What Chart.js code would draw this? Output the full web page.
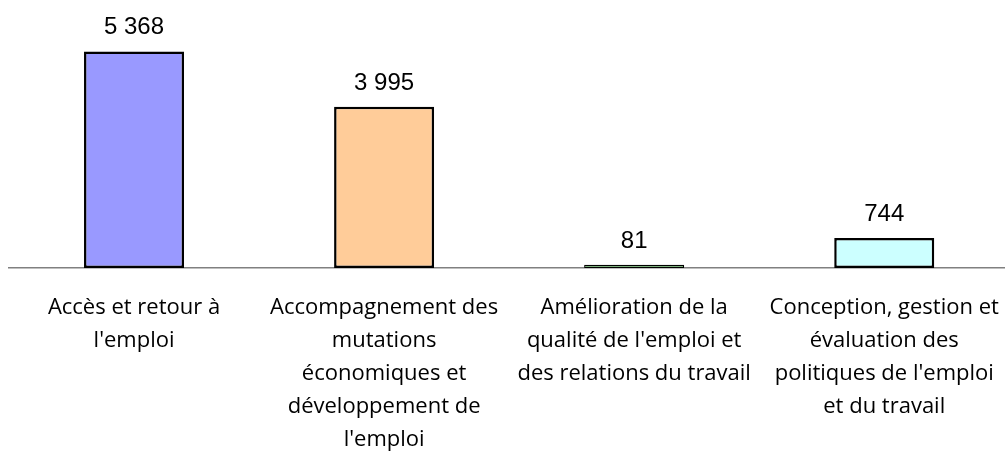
<!DOCTYPE html>
<html lang="fr">
<head>
<meta charset="utf-8">
<title>Répartition par action</title>
<script src="https://cdn.jsdelivr.net/npm/chart.js@4/dist/chart.umd.min.js"></script>
<style>
    html, body { margin: 0; padding: 0; background: #fff; overflow: hidden; }
</style>
</head>
<body>
<canvas id="barChart" width="1022" height="479"></canvas>
<script>
// DATA

const categories = [
    ['Accès et retour à', "l'emploi"],
    ['Accompagnement des', 'mutations', 'économiques et', 'développement de', "l'emploi"],
    ['Amélioration de la', "qualité de l'emploi et", 'des relations du travail'],
    ['Conception, gestion et', 'évaluation des', "politiques de l'emploi", 'et du travail']
];

const values = [5368, 3995, 81, 744];

const barColors = ['#9999FF', '#FFCC99', '#66AA66', '#CCFFFF'];


// VALUE LABELS ABOVE BARS

function formatValue(v) {
    return String(v).replace(/\B(?=(\d{3})+(?!\d))/g, ' ');
}

const valueLabels = {
    id: 'valueLabels',
    afterDatasetsDraw(chart) {
        const ctx = chart.ctx;
        const meta = chart.getDatasetMeta(0);
        ctx.save();
        ctx.font = '24px "Liberation Sans", Arial, sans-serif';
        ctx.fillStyle = '#000';
        ctx.textAlign = 'center';
        ctx.textBaseline = 'alphabetic';
        meta.data.forEach((bar, i) => {
            ctx.fillText(formatValue(values[i]), bar.x, bar.y - 17);
        });
        ctx.restore();
    }
};


// CHART

new Chart(document.getElementById('barChart'), {
    type: 'bar',
    data: {
        labels: categories,
        datasets: [{
            data: values,
            backgroundColor: barColors,
            borderColor: '#000',
            borderWidth: [2.5, 2.5, 1.2, 2.5],
            borderSkipped: false,
            barPercentage: 0.4,
            categoryPercentage: 1
        }]
    },
    options: {
        responsive: false,
        animation: false,
        layout: {
            padding: { top: 26, left: 9, right: 1, bottom: 0 }
        },
        plugins: {
            legend: { display: false },
            tooltip: { enabled: false }
        },
        scales: {
            x: {
                grid: { display: false, drawTicks: false },
                border: { display: true, color: '#808080', width: 1.5 },
                ticks: {
                    padding: 23,
                    color: '#000',
                    maxRotation: 0,
                    autoSkip: false,
                    font: { family: '"Open Sans", sans-serif', size: 22, lineHeight: 1.5 }
                }
            },
            y: {
                display: false,
                min: 0,
                max: 6000
            }
        }
    },
    plugins: [valueLabels]
});
</script>
</body>
</html>
